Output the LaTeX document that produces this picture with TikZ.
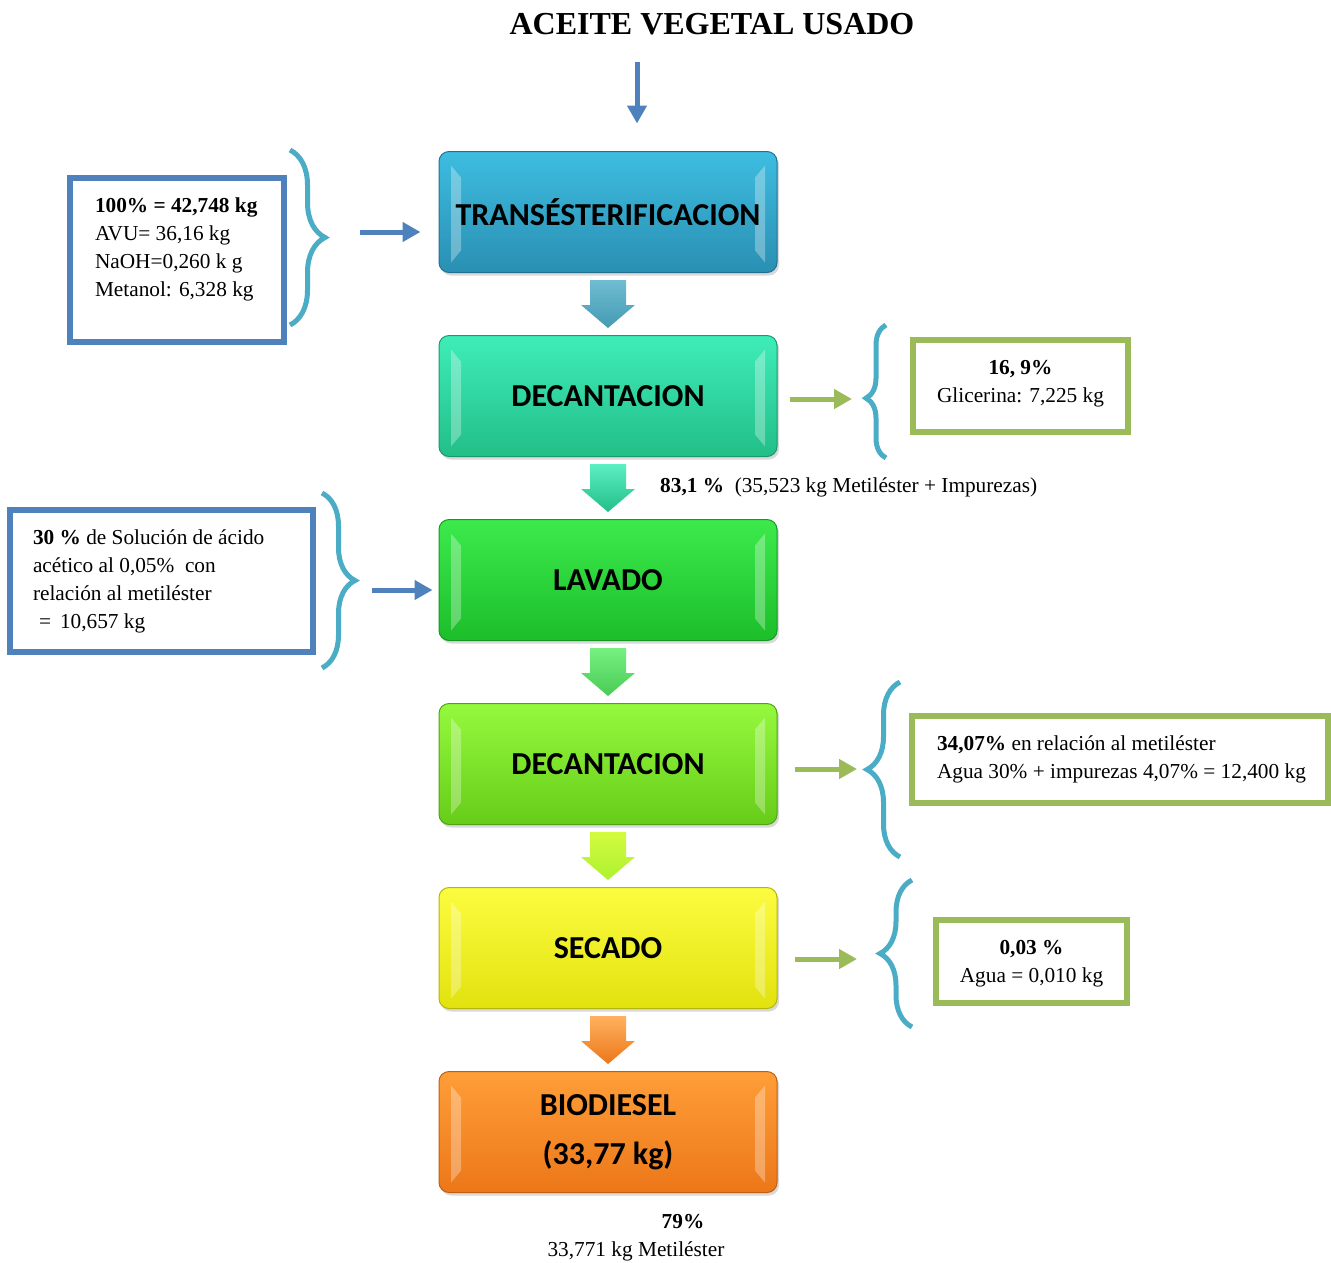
\documentclass[tikz,border=0pt]{standalone}
\usepackage{fontspec}
\setmainfont{Liberation Serif}
\newfontfamily\procfont{Carlito}
\usetikzlibrary{arrows.meta,calc,shadows,decorations.pathreplacing}

\definecolor{azulcaja}{HTML}{4F81BD}
\definecolor{verdecaja}{HTML}{9BBB59}
\definecolor{llavecol}{HTML}{4BACC6}
\definecolor{transA}{HTML}{3DBDE0}
\definecolor{transB}{HTML}{2A8FB3}
\definecolor{decA}{HTML}{3FEDB8}
\definecolor{decB}{HTML}{22BE88}
\definecolor{lavA}{HTML}{3CEA4C}
\definecolor{lavB}{HTML}{1CBE2A}
\definecolor{decdA}{HTML}{95F93E}
\definecolor{decdB}{HTML}{66CC18}
\definecolor{secA}{HTML}{FCFC40}
\definecolor{secB}{HTML}{E2E20F}
\definecolor{bioA}{HTML}{FF9E38}
\definecolor{bioB}{HTML}{EC7719}

% block arrow under a process box
\newcommand{\flechabloque}[3]{%
  \shade[top color=#2, bottom color=#3] ($(#1.south)+(-18,7)$) -- ++(36,0) -- ++(0,25)
    -- ++(9,0) -- ++(-27,23) -- ++(-27,-23) -- ++(9,0) -- cycle;}

\begin{document}
\begin{tikzpicture}[x=1pt,y=-1pt,node distance=184pt,
  proc/.style 2 args={rounded corners=10pt, minimum width=338pt, minimum height=121pt,
    top color=#1, bottom color=#2, draw=#2!80!black, line width=1pt, align=center,
    font=\procfont\bfseries\fontsize{32}{36}\selectfont,
    drop shadow={shadow xshift=2pt, shadow yshift=-3pt, opacity=0.3},
    path picture={
      \fill[white, opacity=0.3, sharp corners] ($(path picture bounding box.north west)+(12,14)$)
        -- ++(10,12) -- ++(0,73) -- ++(-10,12) -- cycle;
      \fill[white, opacity=0.3, sharp corners] ($(path picture bounding box.north east)+(-12,14)$)
        -- ++(-10,12) -- ++(0,73) -- ++(10,12) -- cycle;}},
  info/.style={draw=#1, line width=5.5pt, fill=white, inner sep=0pt,
    font=\fontsize{21.3}{28}\selectfont},
  nota/.style={inner sep=0pt, font=\fontsize{21.3}{28}\selectfont},
  flechaazul/.style={azulcaja, line width=5pt, -{Triangle[length=18pt,width=19pt]}},
  flechaverde/.style={verdecaja, line width=5pt, -{Triangle[length=18pt,width=19pt]}},
  llave/.style={llavecol, line width=5pt, decorate, decoration={brace, amplitude=#1}}]

  \useasboundingbox (0,0) rectangle (1331,1262);

  \node[font=\fontsize{32}{36}\selectfont\bfseries, anchor=base] (titulo) at (712,34) {ACEITE VEGETAL USADO};

  % process column
  \node[proc={transA}{transB}] (trans) at (608,212) {TRANSÉSTERIFICACION};
  \node[proc={decA}{decB}]     (dec1) [below of=trans] {DECANTACION};
  \node[proc={lavA}{lavB}]     (lav)  [below of=dec1]  {LAVADO};
  \node[proc={decdA}{decdB}]   (dec2) [below of=lav]   {DECANTACION};
  \node[proc={secA}{secB}]     (sec)  [below of=dec2]  {SECADO};
  \node[proc={bioA}{bioB}]     (bio)  [below of=sec]   {BIODIESEL\\[13pt](33,77 kg)};

  \flechabloque{trans}{llavecol!80!white}{llavecol!90!black}
  \flechabloque{dec1}{decA!85!white}{decB}
  \flechabloque{lav}{lavA!70!white}{lavB!80!white}
  \flechabloque{dec2}{secA!60!decdA}{decdA!70!secB}
  \flechabloque{sec}{bioA!80!white}{bioB}

  % inputs and outputs
  \node[info=azulcaja] (entrada) at (177,260) {\parbox[c][164pt][t]{214pt}{\leftskip=25pt\relax
    \rule{0pt}{34pt}\textbf{100\% = 42,748 kg}\\ AVU= 36,16 kg\\ NaOH=0,260 k g\\ Metanol: 6,328 kg}};
  \node[info=verdecaja] (glice) at (1020.5,386) {\parbox[c][92pt][t]{215pt}{\centering
    \rule{0pt}{34pt}\textbf{16, 9\%}\\ Glicerina: 7,225 kg}};
  \node[info=azulcaja] (acido) at (161.5,581) {\parbox[c][142pt][t]{303pt}{\leftskip=23pt\relax
    \rule{0pt}{34pt}\textbf{30 \%} de Solución de ácido\\ acético al 0,05\%~ con\\ relación al metiléster\\
    \hspace*{6pt}=\hspace*{9pt}10,657 kg}};
  \node[info=verdecaja] (agua1) at (1120,759.5) {\parbox[c][87pt][t]{416pt}{\leftskip=25pt\relax
    \rule{0pt}{34pt}\textbf{34,07\%} en relación al metiléster\\ Agua 30\% + impurezas 4,07\% = 12,400 kg}};
  \node[info=verdecaja] (agua2) at (1031.5,961.5) {\parbox[c][83pt][t]{191pt}{\centering
    \rule{0pt}{34pt}\textbf{0,03 \%}\\ Agua = 0,010 kg}};

  \node[nota, anchor=base west] (resto) at (660,492) {\textbf{83,1 \%}~~(35,523 kg Metiléster + Impurezas)};
  \node[nota, anchor=base] (rend)  at (683,1228) {\textbf{79\%}};
  \node[nota, anchor=base] (metil) at (636,1256) {33,771 kg Metiléster};

  % braces
  \draw[llave=35pt] (290,150) -- (290,325);
  \draw[llave=20pt, decoration={aspect=0.45}] (886,458) -- (886,325);
  \draw[llave=33pt] (322,493) -- (322,668);
  \draw[llave=33pt] (900,857) -- (900,682);
  \draw[llave=32pt] (912,1027) -- (912,880);

  % arrows
  \coordinate (ent) at (637,62);
  \coordinate (a1) at (360,232);
  \coordinate (a2) at (372,590);
  \coordinate (v1) at (852,399);
  \coordinate (v2) at (857,769);
  \coordinate (v3) at (857,959);
  \draw[flechaazul, shorten >=27.5pt] (ent) -- (ent |- trans.north);
  \draw[flechaazul, shorten >=18pt] (a1) -- (a1 -| trans.west);
  \draw[flechaazul, shorten >=6pt] (a2) -- (a2 -| lav.west);
  \draw[flechaverde, shorten <=12pt] (v1 -| dec1.east) -- (v1);
  \draw[flechaverde, shorten <=17pt] (v2 -| dec2.east) -- (v2);
  \draw[flechaverde, shorten <=17pt] (v3 -| sec.east) -- (v3);
\end{tikzpicture}
\end{document}
